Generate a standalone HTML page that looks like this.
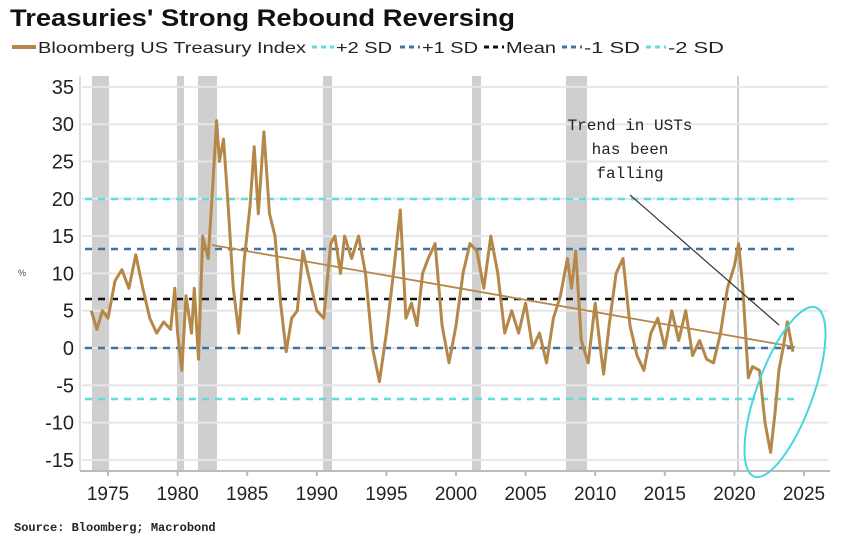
<!DOCTYPE html>
<html><head><meta charset="utf-8"><style>
body{margin:0;background:#fff;width:848px;height:547px;overflow:hidden}
svg{display:block}
</style></head><body>
<svg id="s" width="848" height="547" xmlns="http://www.w3.org/2000/svg" font-family="Liberation Sans, sans-serif">
<text x="10" y="26" font-size="24" font-weight="bold" fill="#111" textLength="505" lengthAdjust="spacingAndGlyphs">Treasuries' Strong Rebound Reversing</text>
<g font-family="Liberation Sans, sans-serif" font-size="16" fill="#222">
<line x1="12" y1="47" x2="36" y2="47" stroke="#b0894a" stroke-width="4"/>
<text x="38" y="53" textLength="268" lengthAdjust="spacingAndGlyphs">Bloomberg US Treasury Index</text>
<line x1="312" y1="47" x2="334" y2="47" stroke="#5fdede" stroke-width="3" stroke-dasharray="5,4"/>
<text x="336" y="53" textLength="56" lengthAdjust="spacingAndGlyphs">+2 SD</text>
<line x1="400" y1="47" x2="420" y2="47" stroke="#3d73a8" stroke-width="3" stroke-dasharray="5,4"/>
<text x="422" y="53" textLength="56" lengthAdjust="spacingAndGlyphs">+1 SD</text>
<line x1="484" y1="47" x2="504" y2="47" stroke="#111" stroke-width="3" stroke-dasharray="5,4"/>
<text x="506" y="53" textLength="50" lengthAdjust="spacingAndGlyphs">Mean</text>
<line x1="562" y1="47" x2="582" y2="47" stroke="#3d73a8" stroke-width="3" stroke-dasharray="5,4"/>
<text x="584" y="53" textLength="56" lengthAdjust="spacingAndGlyphs">-1 SD</text>
<line x1="646" y1="47" x2="666" y2="47" stroke="#5fdede" stroke-width="3" stroke-dasharray="5,4"/>
<text x="668" y="53" textLength="56" lengthAdjust="spacingAndGlyphs">-2 SD</text>
</g>
<g id="bars" fill="#cfcfcf">
<rect x="92" y="76" width="17" height="394"/>
<rect x="177" y="76" width="7" height="394"/>
<rect x="198" y="76" width="19" height="394"/>
<rect x="323" y="76" width="9" height="394"/>
<rect x="472" y="76" width="9" height="394"/>
<rect x="566" y="76" width="21" height="394"/>
<rect x="737" y="76" width="2" height="394"/>
</g>
<g id="grid" stroke="#e6e6e6" stroke-width="2"></g>
<line x1="80" y1="76" x2="80" y2="471" stroke="#bbb"/>
<line x1="80" y1="471" x2="830" y2="471" stroke="#bbb" stroke-width="2"/>
<g id="yl" font-size="20" fill="#222" text-anchor="end"></g>
<g id="xl" font-size="19" fill="#222" text-anchor="middle"></g>
<text x="18" y="276" font-size="9" fill="#444">%</text>
<g stroke-width="2.5" stroke-dasharray="7,6" fill="none">
<line x1="85" x2="796" y1="199" y2="199" stroke="#5fdede"/>
<line x1="85" x2="796" y1="249" y2="249" stroke="#3d73a8"/>
<line x1="85" x2="796" y1="299" y2="299" stroke="#111"/>
<line x1="85" x2="796" y1="348" y2="348" stroke="#3d73a8"/>
<line x1="85" x2="796" y1="399" y2="399" stroke="#5fdede"/>
</g>
<path id="ser" fill="none" stroke="#b5884a" stroke-width="3" stroke-linejoin="round"/>
<line x1="212" y1="245" x2="795" y2="347" stroke="#b5884a" stroke-width="1.8"/>
<line x1="630" y1="195" x2="779" y2="325" stroke="#333" stroke-width="1.2"/>
<ellipse cx="785" cy="392" rx="28" ry="90" transform="rotate(20 785 392)" fill="none" stroke="#45d6e0" stroke-width="2"/>
<g font-family="Liberation Mono, monospace" font-size="16" fill="#222" text-anchor="middle">
<text x="630" y="130">Trend in USTs</text>
<text x="630" y="154">has been</text>
<text x="630" y="178">falling</text>
</g>
<text x="14" y="531" font-family="Liberation Mono, monospace" font-size="12" font-weight="bold" fill="#222">Source: Bloomberg; Macrobond</text>
</svg>
<script>
var Y=v=>348-v*7.46, X=t=>108+(t-1975)*13.92, ns="http://www.w3.org/2000/svg";
var g=document.getElementById('grid'),yl=document.getElementById('yl'),xl=document.getElementById('xl');
for(var v=-15;v<=35;v+=5){var l=document.createElementNS(ns,'line');l.setAttribute('x1',82);l.setAttribute('x2',828);l.setAttribute('y1',Y(v));l.setAttribute('y2',Y(v));g.appendChild(l);
var t=document.createElementNS(ns,'text');t.setAttribute('x',74);t.setAttribute('y',Y(v)+7);t.textContent=v;yl.appendChild(t);}
for(var yr=1975;yr<=2025;yr+=5){var t=document.createElementNS(ns,'text');t.setAttribute('x',X(yr));t.setAttribute('y',500);t.textContent=yr;xl.appendChild(t);
var l=document.createElementNS(ns,'line');l.setAttribute('x1',X(yr));l.setAttribute('x2',X(yr));l.setAttribute('y1',471);l.setAttribute('y2',476);l.setAttribute('stroke','#bbb');g.appendChild(l);}
var d=[1973.8,5,1974.2,2.5,1974.6,5,1975,4,1975.5,9,1976,10.5,1976.5,8,1977,12.5,1977.5,8,1978,4,1978.5,2,1979,3.5,1979.5,2.5,1979.8,8,1980,2,1980.3,-3,1980.6,7,1981,2,1981.2,8,1981.5,-1.5,1981.8,15,1982.2,12,1982.5,21,1982.8,30.5,1983,25,1983.3,28,1983.6,20,1984,8,1984.4,2,1984.8,12,1985.2,19,1985.5,27,1985.8,18,1986.2,29,1986.6,18,1987,15,1987.4,6,1987.8,-0.5,1988.2,4,1988.6,5,1989,13,1989.5,9,1990,5,1990.5,4,1991,14,1991.3,15,1991.7,10,1992,15,1992.5,12,1993,15,1993.5,10,1994,0,1994.5,-4.5,1995,2,1995.5,10,1996,18.5,1996.4,4,1996.8,6,1997.2,3,1997.6,10,1998,12,1998.5,14,1999,3,1999.5,-2,2000,3,2000.5,10,2001,14,2001.5,13,2002,8,2002.5,15,2003,10,2003.5,2,2004,5,2004.5,2,2005,6,2005.5,0,2006,2,2006.5,-2,2007,4,2007.5,7,2008,12,2008.3,8,2008.6,13,2009,1,2009.5,-2,2010,6,2010.3,1,2010.6,-3.5,2011,3,2011.5,10,2012,12,2012.5,3,2013,-1,2013.5,-3,2014,2,2014.5,4,2015,0,2015.5,5,2016,1,2016.5,5,2017,-1,2017.5,1,2018,-1.5,2018.5,-2,2019,2,2019.5,8,2020,11,2020.3,14,2020.6,8,2021,-4,2021.3,-2.5,2021.8,-3,2022.2,-10,2022.6,-14,2022.9,-9,2023.2,-3,2023.5,0,2023.8,3.5,2024.2,-0.5];
var p='';for(var i=0;i<d.length;i+=2){p+=(i?'L':'M')+X(d[i]).toFixed(1)+' '+Y(d[i+1]).toFixed(1);}
document.getElementById('ser').setAttribute('d',p);
</script>
</body></html>
